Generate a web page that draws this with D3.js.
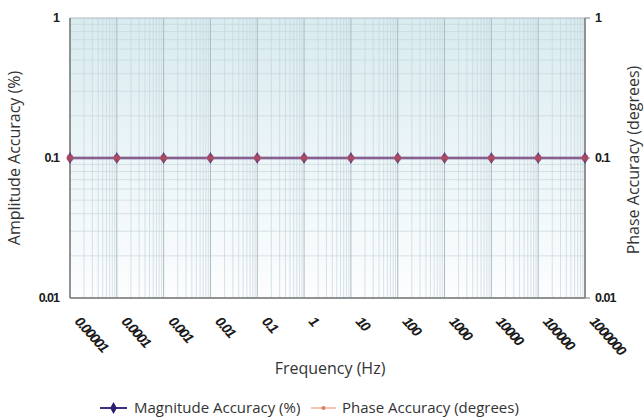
<!DOCTYPE html>
<html>
<head>
<meta charset="utf-8">
<title>Accuracy vs Frequency</title>
<script src="https://d3js.org/d3.v7.min.js"></script>
<style>
body{ margin:0; background:#fff; font-family:'Open Sans', sans-serif; }
.tick-lbl{ font-family:'Liberation Sans', Arial, sans-serif; font-weight:bold; font-size:12.5px; fill:#1a1a1a; letter-spacing:-1px; }
.title{ font-family:'Open Sans', sans-serif; font-size:16px; fill:#333; }
.legend{ font-family:'Open Sans', sans-serif; font-size:15px; fill:#333; }
</style>
</head>
<body>
<svg width="644" height="419"></svg>
<script>
// data
var frequencies = [0.00001, 0.0001, 0.001, 0.01, 0.1, 1, 10, 100, 1000, 10000, 100000, 1000000];
var freqLabels = ["0.00001","0.0001","0.001","0.01","0.1","1","10","100","1000","10000","100000","1000000"];
var magnitude = [0.1, 0.1, 0.1, 0.1, 0.1, 0.1, 0.1, 0.1, 0.1, 0.1, 0.1, 0.1];
var phase = [0.1, 0.1, 0.1, 0.1, 0.1, 0.1, 0.1, 0.1, 0.1, 0.1, 0.1, 0.1];
var yTicks = [0.01, 0.1, 1];
var yLabels = ["0.01", "0.1", "1"];

var svg = d3.select("svg");
var L = 70, R = 585, T = 18, B = 298;

var x = d3.scaleLog().domain([0.00001, 1000000]).range([L, R]);
var y = d3.scaleLog().domain([0.01, 1]).range([B, T]);

// background gradient
var defs = svg.append("defs");
var grad = defs.append("linearGradient").attr("id", "bg")
  .attr("x1", 0).attr("y1", 0).attr("x2", 0).attr("y2", 1);
grad.append("stop").attr("offset", "0%").attr("stop-color", "#d8ebef");
grad.append("stop").attr("offset", "50%").attr("stop-color", "#ecf5f7");
grad.append("stop").attr("offset", "100%").attr("stop-color", "#fcfdfe");
svg.append("rect").attr("x", L).attr("y", T).attr("width", R - L).attr("height", B - T)
  .attr("fill", "url(#bg)");

// minor grid
var xMinor = [];
for (var d = -5; d < 6; d++) for (var k = 2; k < 10; k++) xMinor.push(k * Math.pow(10, d));
var yMinor = [];
for (var e = -2; e < 0; e++) for (var m = 2; m < 10; m++) yMinor.push(m * Math.pow(10, e));

var grid = svg.append("g");
grid.selectAll(".vmin").data(xMinor).enter().append("line")
  .attr("x1", function(v){ return x(v); }).attr("x2", function(v){ return x(v); })
  .attr("y1", T).attr("y2", B).attr("stroke", "#c6d5dc").attr("stroke-width", 0.7);
grid.selectAll(".hmin").data(yMinor).enter().append("line")
  .attr("y1", function(v){ return y(v); }).attr("y2", function(v){ return y(v); })
  .attr("x1", L).attr("x2", R).attr("stroke", "#c6d5dc").attr("stroke-width", 0.7);
grid.selectAll(".vmaj").data(frequencies).enter().append("line")
  .attr("x1", function(v){ return x(v); }).attr("x2", function(v){ return x(v); })
  .attr("y1", T).attr("y2", B).attr("stroke", "#abbac1").attr("stroke-width", 1);
grid.selectAll(".hmaj").data(yTicks).enter().append("line")
  .attr("y1", function(v){ return y(v); }).attr("y2", function(v){ return y(v); })
  .attr("x1", L).attr("x2", R).attr("stroke", "#abbac1").attr("stroke-width", 1);

// axes lines
var ax = svg.append("g").attr("stroke", "#7a7a7a").attr("stroke-width", 1.5);
ax.append("line").attr("x1", L).attr("x2", L).attr("y1", T).attr("y2", B);
ax.append("line").attr("x1", R).attr("x2", R).attr("y1", T).attr("y2", B);
ax.append("line").attr("x1", L).attr("x2", R).attr("y1", B).attr("y2", B);
yTicks.forEach(function(v){
  ax.append("line").attr("x1", R).attr("x2", R + 5).attr("y1", y(v)).attr("y2", y(v)).attr("stroke-width", 1);
});

// y tick labels
svg.selectAll(".yl").data(yTicks).enter().append("text").attr("class", "tick-lbl")
  .attr("x", L - 11).attr("y", function(v){ return y(v) + 4; })
  .attr("text-anchor", "end").text(function(v, i){ return yLabels[i]; });
svg.selectAll(".yr").data(yTicks).enter().append("text").attr("class", "tick-lbl")
  .attr("x", R + 10).attr("y", function(v){ return y(v) + 4; })
  .attr("text-anchor", "start").text(function(v, i){ return yLabels[i]; });

// x tick labels
svg.selectAll(".xl").data(frequencies).enter().append("text").attr("class", "tick-lbl")
  .attr("font-style", "italic").style("font-size", "14px").style("letter-spacing", "-1.3px")
  .attr("transform", function(v){ return "translate(" + (x(v) + 4) + "," + (B + 24) + ") rotate(48)"; })
  .text(function(v, i){ return freqLabels[i]; });

// series
var line = d3.line().x(function(d){ return x(d[0]); }).y(function(d){ return y(d[1]); });
var magData = frequencies.map(function(f, i){ return [f, magnitude[i]]; });
var phData = frequencies.map(function(f, i){ return [f, phase[i]]; });

svg.append("path").datum(magData).attr("d", line).attr("fill", "none")
  .attr("stroke", "#4b3a8a").attr("stroke-width", 2.5);
svg.selectAll(".md").data(magData).enter().append("path")
  .attr("d", d3.symbol().type(d3.symbolDiamond).size(40))
  .attr("transform", function(d){ return "translate(" + x(d[0]) + "," + y(d[1]) + ")"; })
  .attr("fill", "#4b3a8a");
svg.append("path").datum(phData).attr("d", line).attr("fill", "none")
  .attr("stroke", "#e9958a").attr("stroke-width", 1.5).attr("opacity", 0.55);
svg.selectAll(".pd").data(phData).enter().append("circle")
  .attr("cx", function(d){ return x(d[0]); }).attr("cy", function(d){ return y(d[1]); })
  .attr("r", 3.4).attr("fill", "#b24a5c").attr("opacity", 0.85);

// titles
svg.append("text").attr("class", "title").attr("text-anchor", "middle")
  .attr("transform", "translate(20," + 158 + ") rotate(-90)")
  .text("Amplitude Accuracy (%)");
svg.append("text").attr("class", "title").attr("text-anchor", "middle")
  .attr("transform", "translate(639," + 160 + ") rotate(-90)")
  .text("Phase Accuracy (degrees)");
svg.append("text").attr("class", "title").attr("text-anchor", "middle")
  .attr("x", 330).attr("y", 374).text("Frequency (Hz)");

// legend
var lg = svg.append("g");
lg.append("line").attr("x1", 100).attr("x2", 127).attr("y1", 408).attr("y2", 408)
  .attr("stroke", "#3a2f86").attr("stroke-width", 2);
lg.append("path").attr("d", d3.symbol().type(d3.symbolDiamond).size(40))
  .attr("transform", "translate(113.5,408)").attr("fill", "#2a2070");
lg.append("text").attr("class", "legend").attr("x", 134).attr("y", 413).text("Magnitude Accuracy (%)");
lg.append("line").attr("x1", 311).attr("x2", 336).attr("y1", 408).attr("y2", 408)
  .attr("stroke", "#f2b39a").attr("stroke-width", 1.5);
lg.append("circle").attr("cx", 323.5).attr("cy", 408).attr("r", 2).attr("fill", "#e07a6a");
lg.append("text").attr("class", "legend").attr("x", 342).attr("y", 413).text("Phase Accuracy (degrees)");
</script>
</body>
</html>
